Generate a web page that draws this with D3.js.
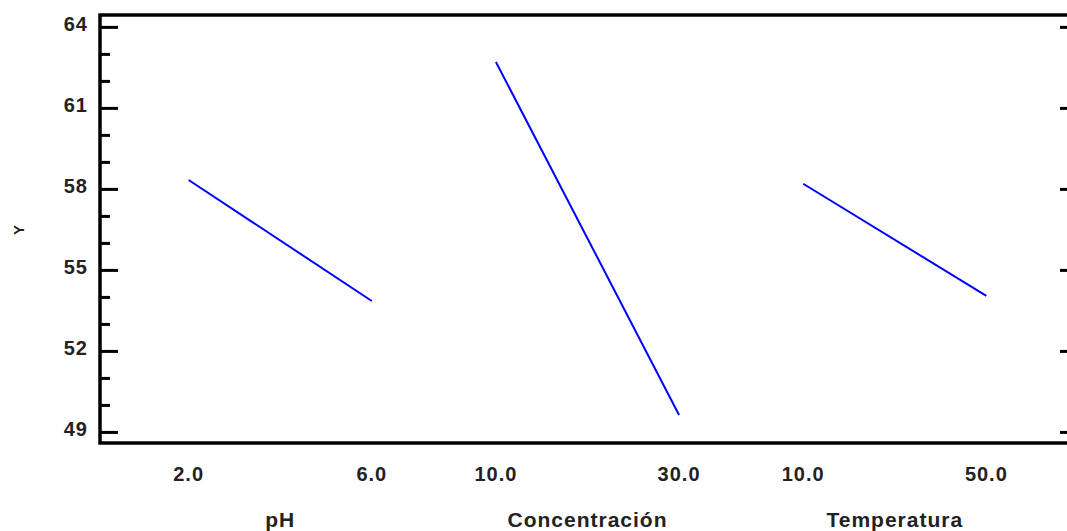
<!DOCTYPE html>
<html>
<head>
<meta charset="utf-8">
<script src="https://cdn.jsdelivr.net/npm/d3@7"></script>
<style>
  body { margin: 0; background: #fff; }
  text { font-family: "Liberation Sans", Arial, sans-serif; font-weight: bold; fill: #222; letter-spacing: 1px; }
</style>
</head>
<body>
<div id="plot"></div>
<script>
// main effects for Y
const factors = ["pH", "Concentración", "Temperatura"];
const lowLevels = [2.0, 10.0, 10.0];
const highLevels = [6.0, 30.0, 50.0];
const lowMeans = [58.33, 62.70, 58.19];
const highMeans = [53.85, 49.63, 54.04];
const yTicks = [49, 52, 55, 58, 61, 64];
const yMinor = [50, 51, 53, 54, 56, 57, 59, 60, 62, 63];

const W = 1067, H = 531;
const margin = { top: 15, right: -11, bottom: 88, left: 100 },
      width = W - margin.left - margin.right,
      height = H - margin.top - margin.bottom;

const svg = d3.select("div#plot").append("svg")
    .attr("width", W)
    .attr("height", H)
  .append("g")
    .attr("transform", `translate(${margin.left},${margin.top})`);

const y = d3.scaleLinear()
    .domain([48.59, 64.44])
    .range([height, 0]);

const band = d3.scaleBand()
    .domain(factors)
    .range([2, 973])
    .paddingInner(0.404)
    .paddingOuter(0.282);

const xs = factors.map((f, i) => d3.scaleLinear()
    .domain([lowLevels[i], highLevels[i]])
    .range([band(f), band(f) + band.bandwidth()]));

// minor ticks on the left
svg.append("g")
    .call(d3.axisLeft(y).tickValues(yMinor).tickSize(-10).tickFormat(""))
    .call(g => g.select(".domain").remove())
    .call(g => g.selectAll("line").attr("stroke", "#000").attr("stroke-width", 3));

// major ticks on the left with labels
svg.append("g")
    .call(d3.axisLeft(y).tickValues(yTicks).tickSize(-18).tickPadding(12).tickFormat(d3.format("d")))
    .call(g => g.select(".domain").remove())
    .call(g => g.selectAll("line").attr("stroke", "#000").attr("stroke-width", 3))
    .call(g => g.selectAll("text").attr("font-size", 20).attr("dy", "0.18em")
        .style("font-family", "'Liberation Sans', Arial, sans-serif").style("font-weight", "bold").attr("fill", "#222"));

// major ticks on the right
svg.append("g")
    .attr("transform", `translate(${width},0)`)
    .call(d3.axisRight(y).tickValues(yTicks).tickSize(-18).tickFormat(""))
    .call(g => g.select(".domain").remove())
    .call(g => g.selectAll("line").attr("stroke", "#000").attr("stroke-width", 3));

// frame
svg.append("rect")
    .attr("x", 0).attr("y", 0)
    .attr("width", width).attr("height", height)
    .attr("fill", "none")
    .attr("stroke", "#000")
    .attr("stroke-width", 3.5);

// level labels
factors.forEach((f, i) => {
  [lowLevels[i], highLevels[i]].forEach(v => {
    svg.append("text")
        .attr("x", xs[i](v))
        .attr("y", height + 38)
        .attr("text-anchor", "middle")
        .attr("font-size", 20)
        .text(d3.format(".1f")(v));
  });
  svg.append("text")
      .attr("x", band(f) + band.bandwidth() / 2)
      .attr("y", height + 84)
      .attr("text-anchor", "middle")
      .attr("font-size", 21)
      .text(f);
});

// Y label
svg.append("text")
    .attr("transform", "rotate(-90)")
    .attr("x", -(y(56.5)))
    .attr("y", -76)
    .attr("text-anchor", "middle")
    .attr("font-size", 15)
    .text("Y");

// effect lines
const line = d3.line().x(d => d[0]).y(d => y(d[1]));
factors.forEach((f, i) => {
  svg.append("path")
      .datum([[xs[i](lowLevels[i]), lowMeans[i]], [xs[i](highLevels[i]), highMeans[i]]])
      .attr("fill", "none")
      .attr("stroke", "#0000ff")
      .attr("stroke-width", 2)
      .attr("d", line);
});
</script>
</body>
</html>
